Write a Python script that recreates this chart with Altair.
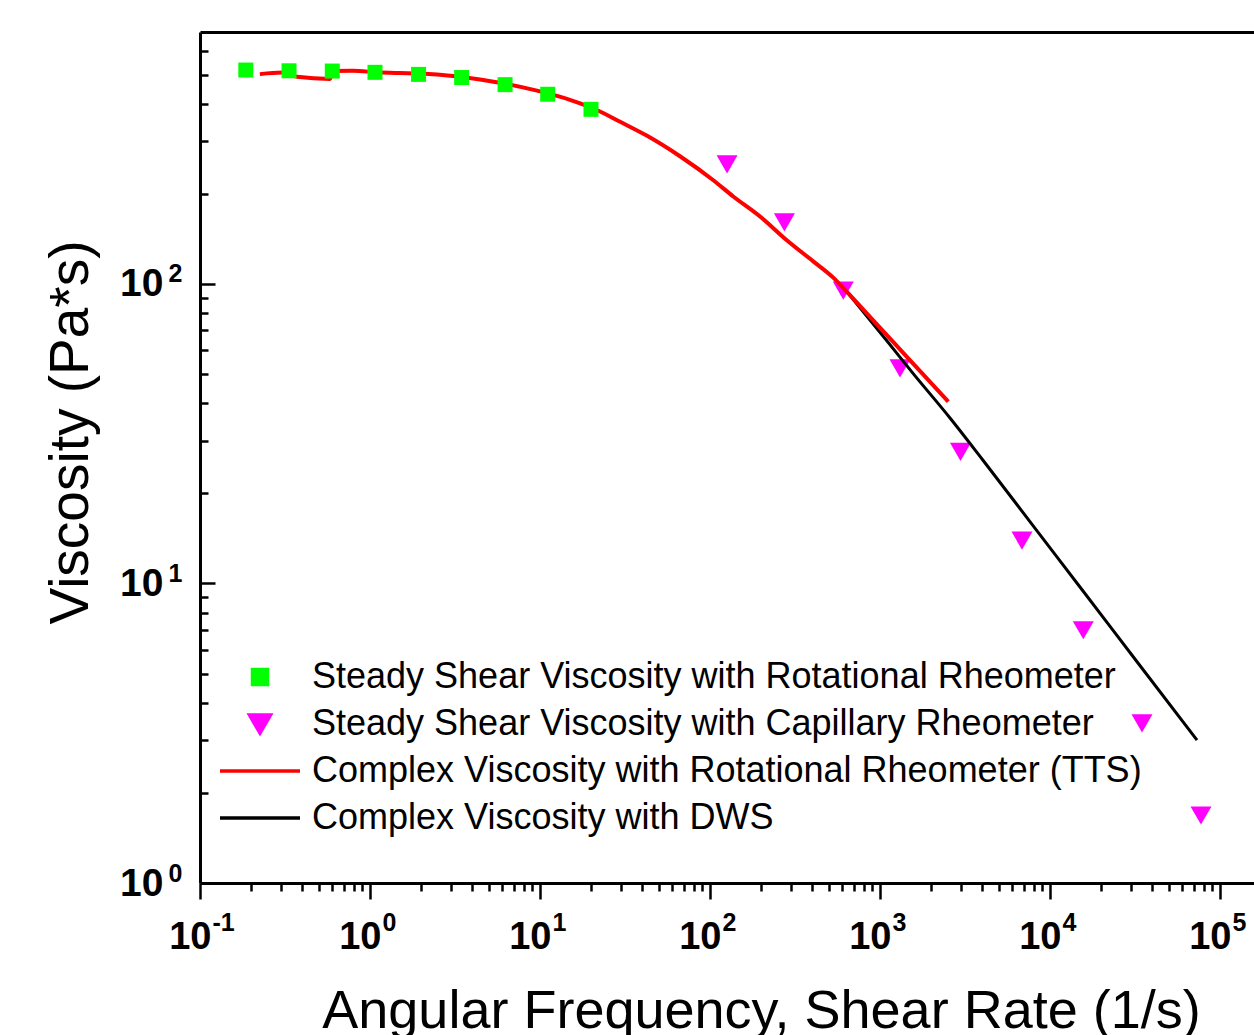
import altair as alt
import pandas as pd

SERIES = [
    "Steady Shear Viscosity with Rotational Rheometer",
    "Steady Shear Viscosity with Capillary Rheometer",
    "Complex Viscosity with Rotational Rheometer (TTS)",
    "Complex Viscosity with DWS",
]
COLORS = ["#00ff00", "#ff00ff", "#ff0000", "#000000"]
# legend glyphs (unit box -1..1, scaled by the legend symbol size)
LEG_SHAPES = [
    "M-0.714,-0.714L0.714,-0.714L0.714,0.714L-0.714,0.714Z",
    "M-1,-0.866L1,-0.866L0,0.866Z",
    "M-3.81,0L3.81,0",
    "M-3.81,0L3.81,0",
]
LEG_FILL = ["#00ff00", "#ff00ff", "transparent", "transparent"]
LEG_STROKE = ["transparent", "transparent", "#ff0000", "#000000"]

# Steady shear, rotational rheometer (green squares)
rot_x = [0.186, 0.334, 0.600, 1.07, 1.93, 3.46, 6.23, 11.1, 19.95]
rot_y = [518, 515, 514, 509, 501, 489, 463, 430, 383]

# Steady shear, capillary rheometer (magenta down triangles)
cap_x = [126, 274, 608, 1311, 2975, 6843, 15700, 34770, 77300]
cap_y = [251, 160.5, 95.0, 52.3, 27.5, 13.9, 6.98, 3.41, 1.68]

# Complex viscosity, rotational rheometer TTS (red line)
tts_x = [0.225, 0.304, 0.372, 0.582, 0.606, 0.794, 1.10, 1.50, 1.97, 3.08, 4.44,
         6.06, 9.60, 15.0, 21.6, 29.6, 42.4, 66.6, 104.6, 137, 197, 283, 405,
         531, 623, 956, 1365, 2522]
tts_y = [502, 508, 492, 484, 514, 515, 509, 506, 504, 495, 482,
         468, 442, 412, 381, 348, 313, 267, 222, 196, 168, 140, 119,
         105, 95.5, 73.4, 59.0, 40.5]

# Complex viscosity, DWS (black line)
dws_x = [648, 1100, 1564, 2581, 4035, 7943, 15640, 32500, 73250]
dws_y = [93.3, 64.5, 50.3, 35.7, 25.8, 15.6, 9.44, 5.48, 3.0]

# axis tick values
x_ticks = [0.1, 0.2, 0.3, 0.4, 0.5, 0.6, 0.7, 0.8, 0.9,
           1, 2, 3, 4, 5, 6, 7, 8, 9,
           10, 20, 30, 40, 50, 60, 70, 80, 90,
           100, 200, 300, 400, 500, 600, 700, 800, 900,
           1000, 2000, 3000, 4000, 5000, 6000, 7000, 8000, 9000,
           10000, 20000, 30000, 40000, 50000, 60000, 70000, 80000, 90000,
           100000]
x_major = [0.1, 1, 10, 100, 1000, 10000, 100000]
y_ticks = [1, 2, 3, 4, 5, 6, 7, 8, 9,
           10, 20, 30, 40, 50, 60, 70, 80, 90,
           100, 200, 300, 400, 500, 600]
y_major = [1, 10, 100]
exponents = ["-1", "0", "1", "2", "3", "4", "5"]
X_DOMAIN = [0.1, 158489]
Y_DOMAIN = [1, 694]

W, H = 1054, 851

LOG = "round(log(datum.value)/LN10)"
MAJOR = "abs(log(datum.value)/LN10 - " + LOG + ") < 0.001"
BASE_EXPR = "(" + MAJOR + ") ? '10' : ''"
EXP_EXPR = "[" + ",".join("'" + e + "'" for e in exponents) + "][" + LOG + " + 1]"

rot = pd.DataFrame({"x": rot_x, "y": rot_y, "series": SERIES[0]})
cap = pd.DataFrame({"x": cap_x, "y": cap_y, "series": SERIES[1]})
tts = pd.DataFrame({"x": tts_x, "y": tts_y, "series": SERIES[2], "o": range(len(tts_x))})
dws = pd.DataFrame({"x": dws_x, "y": dws_y, "series": SERIES[3], "o": range(len(dws_x))})

FONT = "Liberation Sans, Arial, sans-serif"

x_axis = alt.Axis(
    orient="bottom", values=x_ticks, labelExpr=BASE_EXPR,
    labelFont=FONT, labelFontWeight="bold", labelFontSize=38, labelColor="black",
    labelAlign="right", labelOffset=11, labelBaseline="alphabetic",
    labelPadding=49, labelOverlap=False, labelFlush=False, labelBound=False,
    tickSize={"condition": {"test": MAJOR, "value": 16}, "value": 8},
    tickWidth=2.5, tickColor="black", domainWidth=3, domainColor="black",
    grid=False,
    title="Angular Frequency, Shear Rate (1/s)",
    titleFont=FONT, titleFontSize=54, titleFontWeight="normal", titleColor="black",
    titleX=561, titleY=144, titleAlign="center", titleBaseline="alphabetic",
)
y_axis = alt.Axis(
    orient="left", values=y_ticks, labelExpr=BASE_EXPR,
    labelFont=FONT, labelFontWeight="bold", labelFontSize=39, labelColor="black",
    labelPadding=37, labelOverlap=False, labelFlush=False, labelBound=False,
    ticks=False, tickSize=0, domainWidth=3, domainColor="black", grid=False,
    title="Viscosity (Pa*s)", titleFont=FONT, titleFontSize=55,
    titleFontWeight="normal", titleColor="black", titleAngle=270,
    titleX=-113, titleY=400, titleAlign="center", titleBaseline="alphabetic",
)

xs = alt.Scale(type="log", domain=X_DOMAIN, nice=False)
ys = alt.Scale(type="log", domain=Y_DOMAIN, nice=False)


def js_list(vals):
    return "[" + ",".join("'" + v + "'" for v in vals) + "]"


IDX = "indexof(" + js_list(SERIES) + ", datum.value)"


def per_entry(vals):
    return {"expr": js_list(vals) + "[" + IDX + "]"}


legend = alt.Legend(
    orient="none", legendX=18, legendY=627, title=None,
    labelFont=FONT, labelFontSize=36, labelColor="black", labelLimit=2000,
    rowPadding=11, labelOffset=34, padding=0, symbolOffset=24, clipHeight=36,
    symbolType=per_entry(LEG_SHAPES),
    symbolSize=441,
    symbolStrokeWidth=3.5,
    symbolFillColor=per_entry(LEG_FILL),
    symbolStrokeColor=per_entry(LEG_STROKE),
    symbolOpacity=1,
)

color = alt.Color("series:N", scale=alt.Scale(domain=SERIES, range=COLORS), legend=legend)

X = alt.X("x:Q", scale=xs, axis=x_axis)
Y = alt.Y("y:Q", scale=ys, axis=y_axis)

tri = alt.Chart(cap).mark_point(shape="triangle-down", filled=True, size=441, opacity=1).encode(
    x=X, y=Y, color=color)
blk = alt.Chart(dws).mark_line(strokeWidth=3, interpolate="monotone").encode(
    x=X, y=Y, color=color, order="o:Q")
red = alt.Chart(tts).mark_line(strokeWidth=4, interpolate="monotone").encode(
    x=X, y=Y, color=color, order="o:Q")
sq = alt.Chart(rot).mark_point(shape="square", filled=True, size=225, opacity=1).encode(
    x=X, y=Y, color=color)

data_layer = alt.layer(tri, blk, red, sq)

# top spine and inward y ticks
frame = alt.Chart(cap).mark_point(opacity=0).encode(
    x=alt.X("x:Q", scale=xs, axis=alt.Axis(orient="top", domain=True, domainWidth=3,
                                           domainColor="black", ticks=False, labels=False,
                                           title=None, grid=False)),
    y=alt.Y("y:Q", scale=ys, axis=alt.Axis(orient="right", offset=-W, domain=False,
                                           values=y_ticks, labels=False, title=None, grid=False,
                                           tickSize={"condition": {"test": MAJOR, "value": 15}, "value": 8},
                                           tickWidth=2.5, tickColor="black")),
)

# exponent (superscript) labels
expo = alt.Chart(cap).mark_point(opacity=0).encode(
    x=alt.X("x:Q", scale=xs, axis=alt.Axis(
        orient="bottom", values=x_major, labelExpr=EXP_EXPR, domain=False, ticks=False,
        tickSize=0, grid=False, title=None, labelFont=FONT, labelFontWeight="bold",
        labelFontSize=25, labelColor="black", labelAlign="left", labelOffset=12,
        labelBaseline="alphabetic", labelPadding=47, labelOverlap=False,
        labelFlush=False, labelBound=False)),
    y=alt.Y("y:Q", scale=ys, axis=alt.Axis(
        orient="left", values=y_major, labelExpr=EXP_EXPR, domain=False, ticks=False,
        tickSize=0, grid=False, title=None, labelFont=FONT, labelFontWeight="bold",
        labelFontSize=25, labelColor="black", labelAlign="right", labelOffset=-10,
        labelBaseline="middle", labelPadding=18, labelOverlap=False,
        labelFlush=False, labelBound=False)),
)

chart = alt.layer(data_layer, frame, expo).resolve_scale(
    x="independent", y="independent").properties(
    width=W, height=H,
    autosize=alt.AutoSizeParams(type="none"),
    padding={"left": 200, "top": 32, "right": 0, "bottom": 152},
    background="white",
).configure_view(stroke=None)

chart.save("out.html", embed_options={"renderer": "svg", "actions": False})
